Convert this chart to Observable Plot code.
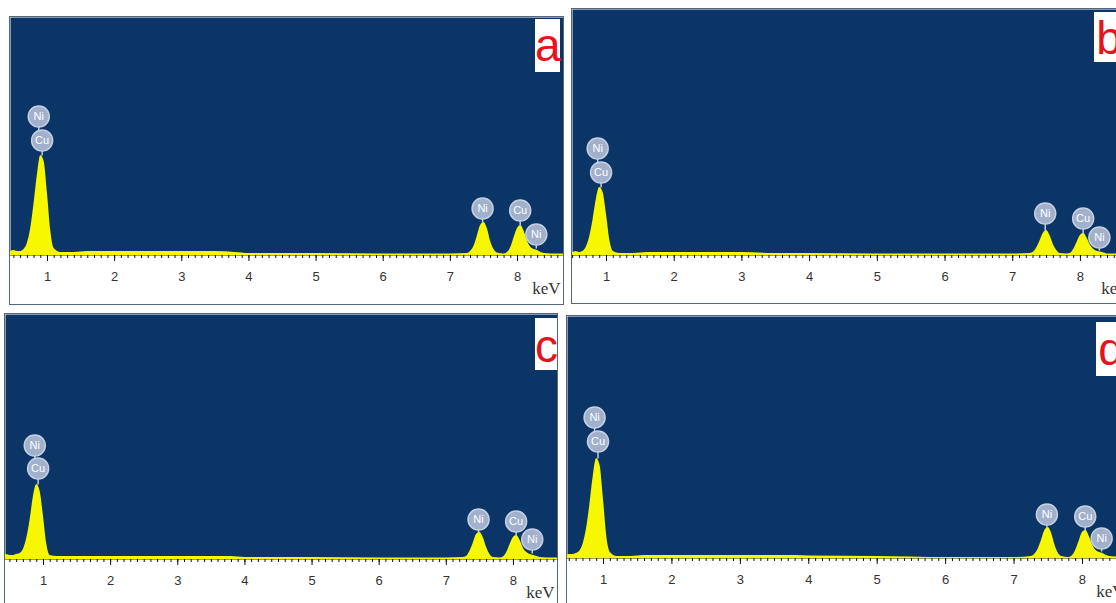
<!DOCTYPE html>
<html>
<head>
<meta charset="utf-8">
<script src="https://cdn.jsdelivr.net/npm/d3@7"></script>
<script src="https://cdn.jsdelivr.net/npm/@observablehq/plot@0.6"></script>
<style>
  html, body { margin: 0; padding: 0; background: #fff; }
  body { width: 1116px; height: 603px; overflow: hidden; position: relative; }
  .panel { position: absolute; border: 1px solid #55677a; background: #fff; overflow: hidden; }
  .panel svg { display: block; }
  .tag { position: absolute; background: #fff; color: #e3141b; font-family: Arial, "Liberation Sans", sans-serif;
         text-align: center; }
</style>
</head>
<body>
<script>
// ---- data (counts in arbitrary units) ----
const energy = [0.40, 0.45, 0.50, 0.55, 0.60, 0.65, 0.70, 0.75, 0.80, 0.85, 0.90, 0.95, 1.00, 1.05, 1.10,
  1.20, 1.40, 1.60, 2.00, 2.50, 3.00, 3.50, 3.80, 4.00, 5.00, 6.00, 7.00,
  7.25, 7.30, 7.35, 7.40, 7.45, 7.50, 7.55, 7.60, 7.65, 7.70, 7.80,
  7.85, 7.90, 7.95, 8.00, 8.05, 8.10, 8.15, 8.20, 8.25, 8.30, 8.35, 8.40, 8.50, 8.80];

const countsA = [3, 4, 5, 4, 4, 6, 12, 27, 52, 81, 100, 94, 62, 24, 7,
  3, 3, 4, 4, 4, 4, 4, 3, 2, 2, 1.5, 1.5,
  2, 4, 9, 19, 30, 33, 27, 14, 6, 2.5, 1.5,
  3, 8, 18, 27, 30, 24, 14, 8, 6, 5, 3, 2, 1.5, 1.5];

const countsB = [2, 3, 3, 4, 3, 4, 8, 18, 35, 56, 68, 63, 41, 15, 4,
  2, 2, 3, 3, 3, 3, 2, 2, 2, 1.5, 1.5, 1.5,
  2, 3, 7, 14, 22, 25, 20, 11, 5, 2, 1.5,
  2, 6, 13, 20, 22, 17, 10, 6, 4, 3.5, 2.5, 1.5, 1.5, 1.5];

const countsC = [4, 5, 4, 4, 5, 6, 10, 21, 39, 63, 75, 68, 43, 15, 4,
  3, 3, 3, 3, 3, 3, 3, 3, 2, 2, 1.5, 1.5,
  2, 3, 8, 16, 25, 27, 22, 12, 5, 2, 1.5,
  2.5, 7, 15, 22, 24, 19, 11, 7, 5, 4, 3, 2, 1.5, 1.5];

const countsD = [3, 3, 4, 4, 5, 7, 14, 29, 53, 82, 100, 93, 59, 21, 6,
  2, 2, 3, 3, 3, 3, 3, 3, 2.5, 2, 1, 1,
  2, 4, 9, 18, 28, 31, 25, 13, 5, 2, 1,
  2.5, 8, 17, 26, 28, 22, 13, 8, 6, 5, 3, 2, 1.5, 1];

// element markers
const labelElements = ["Ni", "Cu", "Ni", "Cu", "Ni"];
const labelEnergy   = [0.87, 0.92, 7.48, 8.04, 8.28];
const labelYA = [139, 115, 47, 45, 21];
const labelYB = [107, 83, 42, 37, 18];
const labelYC = [114, 91, 40, 38, 20];
const labelYD = [141, 117, 44, 42, 20];
const tipA = [115, 100, 33, 30, 7];
const tipB = [83, 68, 25, 22, 5];
const tipC = [91, 75, 27, 24, 6];
const tipD = [117, 100, 31, 28, 7];

const majorTicks = [1, 2, 3, 4, 5, 6, 7, 8];
const minorTicks = d3.range(4, 88).map(d => d / 10);
const panelLetters = ["a", "b", "c", "d"];
const unitLabel = "keV";

// ---- layout ----
const BLUE = "#0a3566";
const YELLOW = "#f7f700";
const panels = [
  {counts: countsA, ly: labelYA, tip: tipA, left: 10,  top: 17,  w: 553, h: 238, strip: 49, dom: [0.449, 8.685],
   tag: {left: 535, top: 19, w: 25, h: 53, fs: 46, lh: 52}},
  {counts: countsB, ly: labelYB, tip: tipB, left: 572, top: 9,   w: 560, h: 246, strip: 48, dom: [0.498, 8.769],
   tag: {left: 1094, top: 12, w: 30, h: 50, fs: 46, lh: 52}},
  {counts: countsC, ly: labelYC, tip: tipC, left: 5,   top: 314, w: 552, h: 245, strip: 48, dom: [0.434, 8.656],
   tag: {left: 535, top: 318, w: 22, h: 52, fs: 46, lh: 56}},
  {counts: countsD, ly: labelYD, tip: tipD, left: 567, top: 316, w: 560, h: 242, strip: 48, dom: [0.474, 8.658],
   tag: {left: 1096, top: 322, w: 30, h: 54, fs: 46, lh: 54}}
];

panels.forEach((p, k) => {
  const spectrum = energy.map((e, i) => ({e, c: p.counts[i]}));
  const labels = labelElements.map((el, i) => ({el, e: labelEnergy[i], y: p.ly[i], tip: p.tip[i]}));

  const chart = Plot.plot({
    width: p.w,
    height: p.h + p.strip,
    marginTop: 0, marginLeft: 0, marginRight: 0, marginBottom: p.strip,
    x: {domain: p.dom, label: null},
    y: {domain: [0, p.h], axis: null},
    style: {background: "#fff", fontFamily: "Arial, 'Liberation Sans', sans-serif", fontSize: "13px", color: "#222"},
    marks: [
      Plot.frame({fill: BLUE, stroke: null}),
      Plot.areaY(spectrum, {x: "e", y: "c", fill: YELLOW, curve: "monotone-x", clip: true}),
      Plot.ruleY([0], {stroke: "#9aa24a", strokeWidth: 1}),
      Plot.axisX(minorTicks, {tickSize: 3, tickFormat: () => "", stroke: "#111", label: null}),
      Plot.axisX(majorTicks, {tickSize: 6, tickPadding: 10, fontSize: 13, stroke: "#111", fill: "#333",
        label: null, tickFormat: d => String(d)}),
      Plot.link(labels, {x1: "e", x2: "e", y1: "y", y2: "tip", stroke: "#c3cde0", strokeWidth: 1.5}),
      Plot.dot(labels, {x: "e", y: "y", r: 10.5, fill: "#a1b0cb", stroke: "#c6d0e2", strokeWidth: 1.5}),
      Plot.text(labels, {x: "e", y: "y", text: "el", fill: "#fff", fontSize: 11}),
      Plot.text([unitLabel], {frameAnchor: "bottom-right", textAnchor: "end", dx: -3, dy: 38,
        fontFamily: "'Times New Roman', 'Liberation Serif', serif", fontSize: 17, fill: "#333"})
    ]
  });

  const wrap = document.createElement("div");
  wrap.className = "panel";
  wrap.style.left = (p.left - 1) + "px";
  wrap.style.top = (p.top - 1) + "px";
  wrap.style.width = p.w + "px";
  wrap.style.height = (p.h + p.strip) + "px";
  wrap.appendChild(chart);
  document.body.appendChild(wrap);

  const t = p.tag;
  const tag = document.createElement("div");
  tag.className = "tag";
  tag.textContent = panelLetters[k];
  Object.assign(tag.style, {left: t.left + "px", top: t.top + "px", width: t.w + "px", height: t.h + "px",
    fontSize: t.fs + "px", lineHeight: t.lh + "px"});
  document.body.appendChild(tag);
});
</script>
</body>
</html>
